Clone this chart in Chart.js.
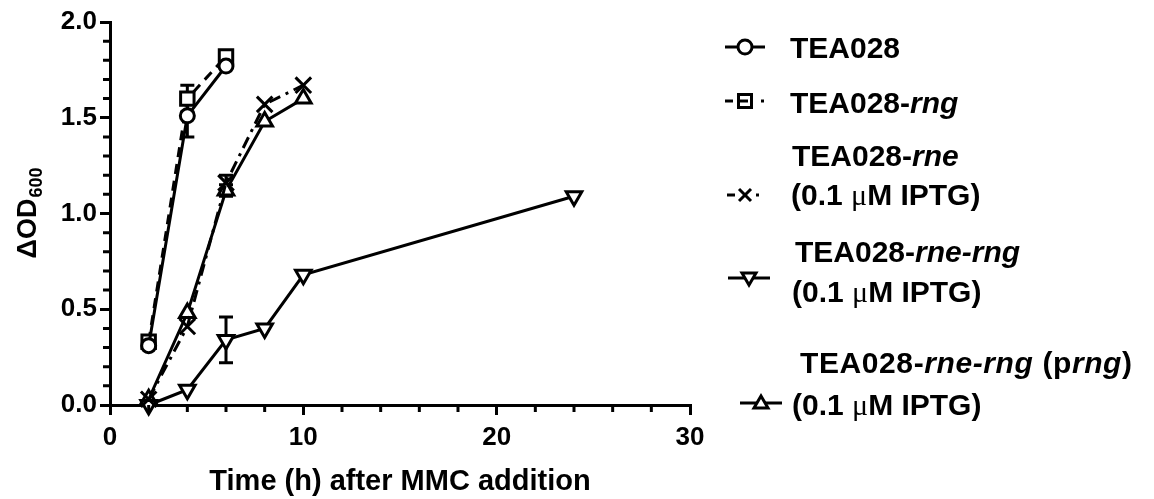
<!DOCTYPE html>
<html><head><meta charset="utf-8">
<script src="https://cdn.jsdelivr.net/npm/chart.js@4.4.0/dist/chart.umd.min.js"></script>
<style>
html,body{margin:0;padding:0;background:#fff;}
#wrap{position:relative;width:1154px;height:499px;overflow:hidden;background:#fff;}
canvas{position:absolute;left:0;top:0;}
.lg{position:absolute;font-family:"Liberation Sans",Arial,sans-serif;font-weight:bold;font-size:30px;line-height:30px;color:#000;white-space:nowrap;}
.lg i{font-style:italic;}
.mu{font-family:"Liberation Serif","DejaVu Serif",serif;font-weight:normal;}
svg.sym{position:absolute;overflow:visible;}
</style></head>
<body><div id="wrap"><canvas id="c" width="1154" height="499"></canvas>

<svg class="sym" style="left:720px;top:32px" width="60" height="30"><line x1="5" y1="15" x2="45" y2="15" stroke="#000" stroke-width="3"/><circle cx="25" cy="15" r="7" fill="#fff" stroke="#000" stroke-width="3"/></svg>
<div class="lg" style="left:790px;top:33px">TEA028</div>

<svg class="sym" style="left:720px;top:86px" width="60" height="30"><line x1="5" y1="15" x2="13" y2="15" stroke="#000" stroke-width="3"/><rect x="18.5" y="8.5" width="13" height="13" fill="#fff" stroke="#000" stroke-width="3"/><line x1="18" y1="15" x2="28" y2="15" stroke="#000" stroke-width="3"/><line x1="41" y1="15" x2="44" y2="15" stroke="#000" stroke-width="3"/></svg>
<div class="lg" style="left:790px;top:88px">TEA028-<i>rng</i></div>

<div class="lg" style="left:792px;top:141px">TEA028-<i>rne</i></div>
<svg class="sym" style="left:720px;top:180px" width="60" height="30"><line x1="7" y1="15" x2="15" y2="15" stroke="#000" stroke-width="3"/><line x1="19" y1="9" x2="31" y2="21" stroke="#000" stroke-width="3"/><line x1="19" y1="21" x2="31" y2="9" stroke="#000" stroke-width="3"/><line x1="36" y1="15" x2="39" y2="15" stroke="#000" stroke-width="3"/></svg>
<div class="lg" style="left:791px;top:180px">(0.1 <span class="mu">μ</span>M IPTG)</div>

<div class="lg" style="left:795px;top:237px">TEA028-<i>rne-rng</i></div>
<svg class="sym" style="left:720px;top:263px" width="60" height="30"><line x1="8" y1="15" x2="50" y2="15" stroke="#000" stroke-width="3"/><polygon points="22,10 36,10 29,22" fill="#fff" stroke="#000" stroke-width="3" stroke-linejoin="miter"/></svg>
<div class="lg" style="left:792px;top:277px">(0.1 <span class="mu">μ</span>M IPTG)</div>

<div class="lg" style="left:800px;top:348px;letter-spacing:0.6px">TEA028-<i>rne-rng</i> (p<i>rng</i>)</div>
<svg class="sym" style="left:732px;top:388px" width="60" height="30"><line x1="8" y1="15" x2="50" y2="15" stroke="#000" stroke-width="3"/><polygon points="22,20 36,20 29,8" fill="#fff" stroke="#000" stroke-width="3"/></svg>
<div class="lg" style="left:792px;top:390px">(0.1 <span class="mu">μ</span>M IPTG)</div>
</div>
<script>
// ---- data ----
const timeA = [2, 4, 6];
const timeB = [2, 4, 6, 8, 10];
const timeC = [2, 4, 6, 8, 10, 24];
const tea028 = [0.31, 1.51, 1.77];
const tea028Err = [0, 0.11, 0];
const tea028Rng = [0.33, 1.60, 1.82];
const tea028RngErr = [0, 0.07, 0];
const tea028Rne = [0.03, 0.41, 1.16, 1.57, 1.67];
const tea028RneErr = [0, 0, 0.04, 0, 0];
const tea028RneRng = [0.00, 0.08, 0.34, 0.40, 0.68, 1.09];
const tea028RneRngErr = [0, 0, 0.12, 0, 0, 0];
const tea028Prng = [0.03, 0.48, 1.12, 1.48, 1.60];
const tea028PrngErr = [0, 0, 0.03, 0, 0];
const xTicks = [0, 10, 20, 30];
const yTicks = [0, 0.5, 1.0, 1.5, 2.0];
const xMinorTicks = [2,4,6,8,12,14,16,18,22,24,26,28];
const yMinorTicks = [0.1,0.2,0.3,0.4,0.6,0.7,0.8,0.9,1.1,1.2,1.3,1.4,1.6,1.7,1.8,1.9];
const yTitleMain = 'ΔOD';
const yTitleSub = '600';

const pts = (xs, ys) => xs.map((x, i) => ({x: x, y: ys[i]}));

Chart.defaults.font.family = '"Liberation Sans", Arial, sans-serif';
Chart.defaults.color = '#000';
const FAM = '"Liberation Sans", Arial, sans-serif';

const base = {showLine: true, borderColor: '#000', borderWidth: 3, pointBackgroundColor: '#fff',
  pointBorderColor: '#000', pointBorderWidth: 3, clip: false, fill: false};

const extras = {
  id: 'extras',
  beforeDatasetsDraw(chart) {
    const {ctx, scales: {x, y}} = chart;
    ctx.save(); ctx.strokeStyle = '#000'; ctx.lineWidth = 3; ctx.setLineDash([]);
    chart.data.datasets.forEach(ds => {
      (ds.err || []).forEach((e, i) => {
        if (!e) return;
        const p = ds.data[i];
        const px = x.getPixelForValue(p.x);
        const y1 = y.getPixelForValue(p.y - e), y2 = y.getPixelForValue(p.y + e);
        ctx.beginPath();
        ctx.moveTo(px, y1); ctx.lineTo(px, y2);
        ctx.moveTo(px - 7, y1); ctx.lineTo(px + 7, y1);
        ctx.moveTo(px - 7, y2); ctx.lineTo(px + 7, y2);
        ctx.stroke();
      });
    });
    ctx.restore();
  },
  afterDraw(chart) {
    const {ctx, scales: {x, y}} = chart;
    ctx.save(); ctx.strokeStyle = '#000'; ctx.lineWidth = 3;
    ctx.beginPath();
    xMinorTicks.forEach(v => { const px = x.getPixelForValue(v); ctx.moveTo(px, y.bottom); ctx.lineTo(px, y.bottom + 7); });
    yMinorTicks.forEach(v => { const py = y.getPixelForValue(v); ctx.moveTo(x.left - 7, py); ctx.lineTo(x.left, py); });
    ctx.stroke();
    // y-axis title with subscript
    const cy = (y.top + y.bottom) / 2;
    ctx.translate(36, cy);
    ctx.rotate(-Math.PI / 2);
    ctx.fillStyle = '#000';
    ctx.textBaseline = 'alphabetic';
    ctx.textAlign = 'left';
    ctx.font = 'bold 27px ' + FAM;
    const w1 = ctx.measureText(yTitleMain).width;
    ctx.font = 'bold 18px ' + FAM;
    const w2 = ctx.measureText(yTitleSub).width;
    const start = -(w1 + w2) / 2;
    ctx.font = 'bold 27px ' + FAM;
    ctx.fillText(yTitleMain, start, 0);
    ctx.font = 'bold 18px ' + FAM;
    ctx.fillText(yTitleSub, start + w1 + 1, 6);
    ctx.restore();
  }
};

new Chart(document.getElementById('c'), {
  type: 'scatter',
  data: {
    datasets: [
      Object.assign({}, base, {label: 'TEA028', data: pts(timeA, tea028), err: tea028Err, pointStyle: 'circle', pointRadius: 7}),
      Object.assign({}, base, {label: 'TEA028-rng', data: pts(timeA, tea028Rng), err: tea028RngErr, pointStyle: 'rect', pointRadius: 9.5, borderDash: [10, 7]}),
      Object.assign({}, base, {label: 'TEA028-rne (0.1 μM IPTG)', data: pts(timeB, tea028Rne), err: tea028RneErr, pointStyle: 'crossRot', pointRadius: 11, borderDash: [12, 6, 3, 6]}),
      Object.assign({}, base, {label: 'TEA028-rne-rng (0.1 μM IPTG)', data: pts(timeC, tea028RneRng), err: tea028RneRngErr, pointStyle: 'triangle', pointRotation: 180, pointRadius: 9}),
      Object.assign({}, base, {label: 'TEA028-rne-rng (prng) (0.1 μM IPTG)', data: pts(timeB, tea028Prng), err: tea028PrngErr, pointStyle: 'triangle', pointRadius: 9})
    ]
  },
  options: {
    responsive: false, animation: false, devicePixelRatio: 1,
    layout: {padding: {left: 0, top: 22, right: 464, bottom: 0}},
    plugins: {legend: {display: false}, tooltip: {enabled: false}},
    scales: {
      x: {
        type: 'linear', min: 0, max: 30,
        afterBuildTicks: s => { s.ticks = xTicks.map(v => ({value: v})); },
        ticks: {font: {size: 26, weight: 'bold'}, color: '#000', padding: 7, maxRotation: 0, callback: v => String(v)},
        grid: {drawOnChartArea: false, drawTicks: true, tickLength: 10, color: '#000', lineWidth: 3},
        border: {color: '#000', width: 3},
        title: {display: true, text: 'Time (h) after MMC addition', font: {size: 29, weight: 'bold'}, color: '#000', padding: {top: 0, bottom: 0}},
        afterFit: s => { s.height = 94; }
      },
      y: {
        type: 'linear', min: 0, max: 2,
        afterBuildTicks: s => { s.ticks = yTicks.map(v => ({value: v})); },
        ticks: {font: {size: 26, weight: 'bold'}, color: '#000', padding: 3, callback: v => Number(v).toFixed(1)},
        grid: {drawOnChartArea: false, drawTicks: true, tickLength: 10, color: '#000', lineWidth: 3},
        border: {color: '#000', width: 3},
        title: {display: false},
        afterFit: s => { s.width = 110; }
      }
    }
  },
  plugins: [extras]
});
</script>
</body></html>
